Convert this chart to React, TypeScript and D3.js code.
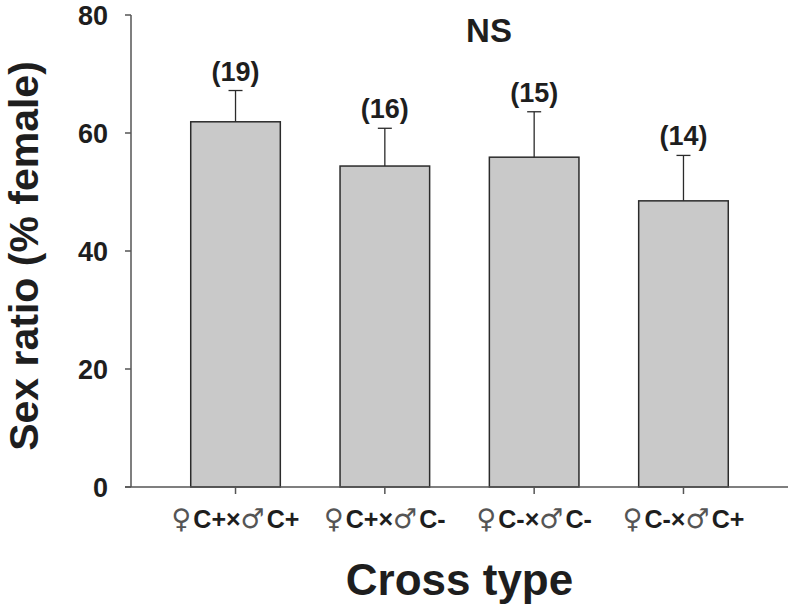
import * as d3 from "d3";

const categories = ["♀C+×♂C+", "♀C+×♂C-", "♀C-×♂C-", "♀C-×♂C+"];
const means = [61.9, 54.4, 55.9, 48.5];
const errors = [5.3, 6.4, 7.7, 7.7];
const sampleSizes = [19, 16, 15, 14];
const yTicks = [0, 20, 40, 60, 80];

const W = 793;
const H = 608;
const margin = { top: 15, right: 5, bottom: 121, left: 131 };
const font = "'Liberation Sans', Arial, sans-serif";
const ink = "#1e1e1e";

export default function App() {
  const x = d3
    .scaleBand()
    .domain(categories)
    .range([margin.left, W - margin.right])
    .paddingInner(0.4)
    .paddingOuter(0.4);

  const y = d3
    .scaleLinear()
    .domain([0, 80])
    .range([H - margin.bottom, margin.top]);

  const base = y(0);

  // split a label so the sex symbols come out thin, the rest bold
  const parts = (s: string) => s.match(/[♀♂]|[^♀♂]+/g) ?? [];

  return (
    <svg
      width={W}
      height={H}
      style={{ position: "absolute", left: 0, top: 0, background: "#fff" }}
      fontFamily={font}
    >
      {/* bars */}
      {categories.map((c, i) => (
        <rect
          key={c}
          x={x(c)!}
          y={y(means[i])}
          width={x.bandwidth()}
          height={base - y(means[i])}
          fill="#c9c9c9"
          stroke="#2b2b2b"
          strokeWidth={1.5}
        />
      ))}

      {/* error bars, upper only */}
      {categories.map((c, i) => {
        const cx = x(c)! + x.bandwidth() / 2;
        const top = y(means[i] + errors[i]);
        return (
          <g key={c} stroke="#2b2b2b" strokeWidth={1.3}>
            <line x1={cx} x2={cx} y1={y(means[i])} y2={top} />
            <line x1={cx - 7} x2={cx + 7} y1={top} y2={top} />
          </g>
        );
      })}

      {/* sample sizes */}
      {categories.map((c, i) => (
        <text
          key={c}
          x={x(c)! + x.bandwidth() / 2}
          y={y(means[i] + errors[i]) - 10}
          textAnchor="middle"
          fontSize={27}
          fontWeight="bold"
          fill={ink}
        >
          ({sampleSizes[i]})
        </text>
      ))}

      <text x={489} y={42} textAnchor="middle" fontSize={33} fontWeight="bold" fill={ink}>
        NS
      </text>

      {/* y axis */}
      <line x1={margin.left} x2={margin.left} y1={y(80)} y2={base} stroke="#555" strokeWidth={1.5} />
      {yTicks.map((t) => (
        <g key={t}>
          <line x1={margin.left - 6} x2={margin.left} y1={y(t)} y2={y(t)} stroke="#555" strokeWidth={1.5} />
          <text
            x={108}
            y={y(t)}
            dy="0.36em"
            textAnchor="end"
            fontSize={27}
            fontWeight="bold"
            fill={ink}
          >
            {t}
          </text>
        </g>
      ))}

      {/* x axis */}
      <line x1={margin.left - 6} x2={W - margin.right} y1={base} y2={base} stroke="#555" strokeWidth={1.5} />
      {categories.map((c) => {
        const cx = x(c)! + x.bandwidth() / 2;
        return (
          <g key={c}>
            <line x1={cx} x2={cx} y1={base} y2={base + 7} stroke="#555" strokeWidth={1.5} />
            <text x={cx} y={528} textAnchor="middle" fontSize={25} fill={ink}>
              {parts(c).map((p, j) =>
                p === "♀" || p === "♂" ? (
                  <tspan
                    key={j}
                    fontWeight="normal"
                    fontFamily="'DejaVu Sans', sans-serif"
                    fontSize={27}
                    fill="#555"
                  >
                    {p}
                  </tspan>
                ) : (
                  <tspan key={j} fontWeight="bold" dx={2}>
                    {p}
                  </tspan>
                )
              )}
            </text>
          </g>
        );
      })}

      {/* axis titles */}
      <text
        x={(margin.left + W - margin.right) / 2}
        y={595}
        textAnchor="middle"
        fontSize={44}
        fontWeight="bold"
        fill={ink}
      >
        Cross type
      </text>
      <text
        transform={`translate(38, ${(y(0) + y(80)) / 2 + 5}) rotate(-90)`}
        textAnchor="middle"
        fontSize={41}
        fontWeight="bold"
        fill={ink}
      >
        Sex ratio (% female)
      </text>
    </svg>
  );
}
